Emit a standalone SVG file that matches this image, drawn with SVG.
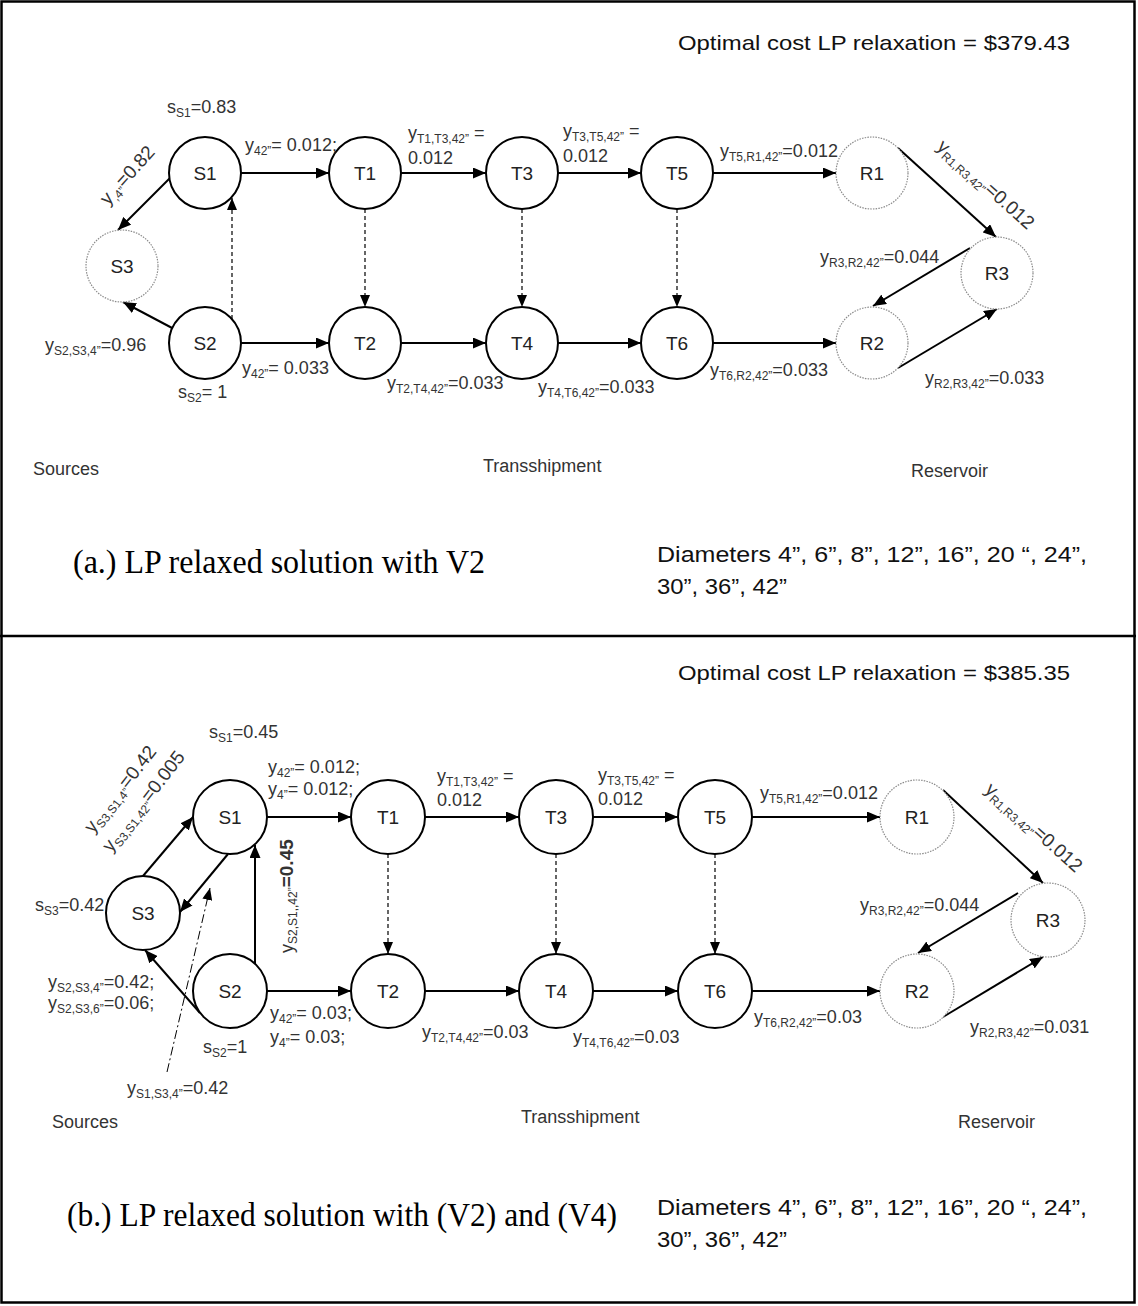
<svg xmlns="http://www.w3.org/2000/svg" width="1138" height="1306" viewBox="0 0 1138 1306">
<style>
.nd{fill:#fff;stroke:#000;stroke-width:2}
.nr{fill:#fff;stroke:#8a8a8a;stroke-width:1.2;stroke-dasharray:1.5 1.2}
.nl{font-family:"Liberation Sans",Arial,sans-serif;font-size:19px;fill:#222;text-anchor:middle}
.e{fill:none;stroke:#000;stroke-width:2;marker-end:url(#ah)}
.d{fill:none;stroke:#000;stroke-width:1.2;stroke-dasharray:4 3;marker-end:url(#ah2)}
.dd{fill:none;stroke:#000;stroke-width:1;stroke-dasharray:9 3 2 3;marker-end:url(#ah2)}
.t{font-family:"Liberation Sans",Arial,sans-serif;font-size:18px;fill:#333}
.r{font-size:19px}
.s{font-size:12px}
.big{font-size:19px;font-weight:bold}
.h{font-family:"Liberation Sans",Arial,sans-serif;font-size:21px;fill:#111}
.dm{font-family:"Liberation Sans",Arial,sans-serif;font-size:22px;fill:#111}
.cap{font-family:"Liberation Serif","Times New Roman",serif;font-size:34px;fill:#000}
</style>
<defs>
<marker id="ah" viewBox="0 0 13 11" markerWidth="13" markerHeight="11" refX="13" refY="5.5" orient="auto" markerUnits="userSpaceOnUse"><path d="M0,0 L13,5.5 L0,11 z" fill="#000"/></marker>
<marker id="ah2" viewBox="0 0 12 10" markerWidth="12" markerHeight="10" refX="12" refY="5" orient="auto" markerUnits="userSpaceOnUse"><path d="M0,0 L12,5 L0,10 z" fill="#000"/></marker>
</defs>
<rect x="1.5" y="1.5" width="1133" height="1301" fill="#fff" stroke="#000" stroke-width="2.5"/>
<line x1="0" y1="636" x2="1136" y2="636" stroke="#000" stroke-width="2.5"/>

<!-- Panel (a) connectors -->
<g id="edges-a">
<path class="e" d="M241,173 H329"/>
<path class="e" d="M401,173 H486"/>
<path class="e" d="M558,173 H641"/>
<path class="e" d="M713,173 H836"/>
<path class="e" d="M241,343 H329"/>
<path class="e" d="M401,343 H486"/>
<path class="e" d="M558,343 H641"/>
<path class="e" d="M713,343 H836"/>
<path class="d" d="M365,209 V307"/>
<path class="d" d="M522,209 V307"/>
<path class="d" d="M677,209 V307"/>
<path class="d" d="M232,319 V198"/>
<path class="e" d="M170,178 L118,230"/>
<path class="e" d="M174,329 L123,302"/>
<path class="e" d="M898,148 L996,237"/>
<path class="e" d="M970,248 L873,306"/>
<path class="e" d="M898,368 L997,309"/>
</g>

<!-- Panel (a) nodes -->
<g id="a-S1"><circle class="nd" cx="205" cy="173" r="36"/><text class="nl" x="205" y="180">S1</text></g>
<g id="a-S2"><circle class="nd" cx="205" cy="343" r="36"/><text class="nl" x="205" y="350">S2</text></g>
<g id="a-S3"><circle class="nr" cx="122" cy="266" r="36"/><text class="nl" x="122" y="273">S3</text></g>
<g id="a-T1"><circle class="nd" cx="365" cy="173" r="36"/><text class="nl" x="365" y="180">T1</text></g>
<g id="a-T2"><circle class="nd" cx="365" cy="343" r="36"/><text class="nl" x="365" y="350">T2</text></g>
<g id="a-T3"><circle class="nd" cx="522" cy="173" r="36"/><text class="nl" x="522" y="180">T3</text></g>
<g id="a-T4"><circle class="nd" cx="522" cy="343" r="36"/><text class="nl" x="522" y="350">T4</text></g>
<g id="a-T5"><circle class="nd" cx="677" cy="173" r="36"/><text class="nl" x="677" y="180">T5</text></g>
<g id="a-T6"><circle class="nd" cx="677" cy="343" r="36"/><text class="nl" x="677" y="350">T6</text></g>
<g id="a-R1"><circle class="nr" cx="872" cy="173" r="36"/><text class="nl" x="872" y="180">R1</text></g>
<g id="a-R2"><circle class="nr" cx="872" cy="343" r="36"/><text class="nl" x="872" y="350">R2</text></g>
<g id="a-R3"><circle class="nr" cx="997" cy="273" r="36"/><text class="nl" x="997" y="280">R3</text></g>

<!-- Panel (a) labels -->
<g id="labels-a">
<text class="h" x="678" y="50" textLength="392" lengthAdjust="spacingAndGlyphs">Optimal cost LP relaxation = $379.43</text>
<text class="t" x="167" y="113">s<tspan class="s" dy="4">S1</tspan><tspan dy="-4">=0.83</tspan></text>
<text class="t r" transform="translate(108,206) rotate(-48)">y<tspan class="s" dy="4">,4”</tspan><tspan dy="-4">=0.82</tspan></text>
<text class="t" x="245" y="151">y<tspan class="s" dy="4">42”</tspan><tspan dy="-4">= 0.012;</tspan></text>
<text class="t" x="45" y="351">y<tspan class="s" dy="4">S2,S3,4”</tspan><tspan dy="-4">=0.96</tspan></text>
<text class="t" x="242" y="374">y<tspan class="s" dy="4">42”</tspan><tspan dy="-4">= 0.033</tspan></text>
<text class="t" x="178" y="398">s<tspan class="s" dy="4">S2</tspan><tspan dy="-4">= 1</tspan></text>
<text class="t" x="408" y="139">y<tspan class="s" dy="4">T1,T3,42”</tspan><tspan dy="-4"> =</tspan></text>
<text class="t" x="408" y="164">0.012</text>
<text class="t" x="563" y="137">y<tspan class="s" dy="4">T3,T5,42”</tspan><tspan dy="-4"> =</tspan></text>
<text class="t" x="563" y="162">0.012</text>
<text class="t" x="720" y="157">y<tspan class="s" dy="4">T5,R1,42”</tspan><tspan dy="-4">=0.012</tspan></text>
<text class="t" x="387" y="389">y<tspan class="s" dy="4">T2,T4,42”</tspan><tspan dy="-4">=0.033</tspan></text>
<text class="t" x="538" y="393">y<tspan class="s" dy="4">T4,T6,42”</tspan><tspan dy="-4">=0.033</tspan></text>
<text class="t" x="710" y="376">y<tspan class="s" dy="4">T6,R2,42”</tspan><tspan dy="-4">=0.033</tspan></text>
<text class="t" x="820" y="263">y<tspan class="s" dy="4">R3,R2,42”</tspan><tspan dy="-4">=0.044</tspan></text>
<text class="t" x="925" y="384">y<tspan class="s" dy="4">R2,R3,42”</tspan><tspan dy="-4">=0.033</tspan></text>
<text class="t r" transform="translate(936,148) rotate(42)">y<tspan class="s" dy="4">R1,R3,42”</tspan><tspan dy="-4">=0.012</tspan></text>
<text class="t" x="33" y="475">Sources</text>
<text class="t" x="483" y="472">Transshipment</text>
<text class="t" x="911" y="477">Reservoir</text>
<text class="cap" x="73" y="573" textLength="412" lengthAdjust="spacingAndGlyphs">(a.) LP relaxed solution with V2</text>
<text class="dm" x="657" y="562" textLength="430" lengthAdjust="spacingAndGlyphs">Diameters 4”, 6”, 8”, 12”, 16”, 20 “, 24”,</text>
<text class="dm" x="657" y="594" textLength="130" lengthAdjust="spacingAndGlyphs">30”, 36”, 42”</text>
</g>

<!-- Panel (b) connectors -->
<g id="edges-b">
<path class="e" d="M267,817 H351"/>
<path class="e" d="M425,817 H519"/>
<path class="e" d="M593,817 H678"/>
<path class="e" d="M752,817 H880"/>
<path class="e" d="M267,991 H351"/>
<path class="e" d="M425,991 H519"/>
<path class="e" d="M593,991 H678"/>
<path class="e" d="M752,991 H880"/>
<path class="d" d="M388,854 V954"/>
<path class="d" d="M556,854 V954"/>
<path class="d" d="M715,854 V954"/>
<path class="e" d="M255,964 V845"/>
<path class="e" d="M143,876 L193,817"/>
<path class="e" d="M228,854 L180,912"/>
<path class="e" d="M200,1013 L145,950"/>
<path class="dd" d="M167,1072 L210,888"/>
<path class="e" d="M943,790 L1043,883"/>
<path class="e" d="M1018,893 L918,953"/>
<path class="e" d="M943,1017 L1043,957"/>
</g>

<!-- Panel (b) nodes -->
<g id="b-S1"><circle class="nd" cx="230" cy="817" r="37"/><text class="nl" x="230" y="824">S1</text></g>
<g id="b-S2"><circle class="nd" cx="230" cy="991" r="37"/><text class="nl" x="230" y="998">S2</text></g>
<g id="b-S3"><circle class="nd" cx="143" cy="913" r="37"/><text class="nl" x="143" y="920">S3</text></g>
<g id="b-T1"><circle class="nd" cx="388" cy="817" r="37"/><text class="nl" x="388" y="824">T1</text></g>
<g id="b-T2"><circle class="nd" cx="388" cy="991" r="37"/><text class="nl" x="388" y="998">T2</text></g>
<g id="b-T3"><circle class="nd" cx="556" cy="817" r="37"/><text class="nl" x="556" y="824">T3</text></g>
<g id="b-T4"><circle class="nd" cx="556" cy="991" r="37"/><text class="nl" x="556" y="998">T4</text></g>
<g id="b-T5"><circle class="nd" cx="715" cy="817" r="37"/><text class="nl" x="715" y="824">T5</text></g>
<g id="b-T6"><circle class="nd" cx="715" cy="991" r="37"/><text class="nl" x="715" y="998">T6</text></g>
<g id="b-R1"><circle class="nr" cx="917" cy="817" r="37"/><text class="nl" x="917" y="824">R1</text></g>
<g id="b-R2"><circle class="nr" cx="917" cy="991" r="37"/><text class="nl" x="917" y="998">R2</text></g>
<g id="b-R3"><circle class="nr" cx="1048" cy="920" r="37"/><text class="nl" x="1048" y="927">R3</text></g>

<!-- Panel (b) labels -->
<g id="labels-b">
<text class="h" x="678" y="680" textLength="392" lengthAdjust="spacingAndGlyphs">Optimal cost LP relaxation = $385.35</text>
<text class="t" x="209" y="738">s<tspan class="s" dy="4">S1</tspan><tspan dy="-4">=0.45</tspan></text>
<text class="t r" transform="translate(93,834) rotate(-52)">y<tspan class="s" dy="4">S3,S1,4”</tspan><tspan dy="-4">=0.42</tspan></text>
<text class="t r" transform="translate(111,853) rotate(-52)">y<tspan class="s" dy="4">S3,S1,42”</tspan><tspan dy="-4">=0.005</tspan></text>
<text class="t" x="35" y="911">s<tspan class="s" dy="4">S3</tspan><tspan dy="-4">=0.42</tspan></text>
<text class="t" x="48" y="988">y<tspan class="s" dy="4">S2,S3,4”</tspan><tspan dy="-4">=0.42;</tspan></text>
<text class="t" x="48" y="1009">y<tspan class="s" dy="4">S2,S3,6”</tspan><tspan dy="-4">=0.06;</tspan></text>
<text class="t" x="203" y="1053">s<tspan class="s" dy="4">S2</tspan><tspan dy="-4">=1</tspan></text>
<text class="t" x="268" y="773">y<tspan class="s" dy="4">42”</tspan><tspan dy="-4">= 0.012;</tspan></text>
<text class="t" x="268" y="795">y<tspan class="s" dy="4">4”</tspan><tspan dy="-4">= 0.012;</tspan></text>
<text class="t" transform="translate(293,953) rotate(-90)">y<tspan class="s" dy="4">S2,S1,,42”</tspan><tspan class="big" dy="-4">=0.45</tspan></text>
<text class="t" x="270" y="1019">y<tspan class="s" dy="4">42”</tspan><tspan dy="-4">= 0.03;</tspan></text>
<text class="t" x="270" y="1043">y<tspan class="s" dy="4">4”</tspan><tspan dy="-4">= 0.03;</tspan></text>
<text class="t" x="437" y="782">y<tspan class="s" dy="4">T1,T3,42”</tspan><tspan dy="-4"> =</tspan></text>
<text class="t" x="437" y="806">0.012</text>
<text class="t" x="598" y="781">y<tspan class="s" dy="4">T3,T5,42”</tspan><tspan dy="-4"> =</tspan></text>
<text class="t" x="598" y="805">0.012</text>
<text class="t" x="760" y="799">y<tspan class="s" dy="4">T5,R1,42”</tspan><tspan dy="-4">=0.012</tspan></text>
<text class="t" x="422" y="1038">y<tspan class="s" dy="4">T2,T4,42”</tspan><tspan dy="-4">=0.03</tspan></text>
<text class="t" x="573" y="1043">y<tspan class="s" dy="4">T4,T6,42”</tspan><tspan dy="-4">=0.03</tspan></text>
<text class="t" x="754" y="1023">y<tspan class="s" dy="4">T6,R2,42”</tspan><tspan dy="-4">=0.03</tspan></text>
<text class="t" x="860" y="911">y<tspan class="s" dy="4">R3,R2,42”</tspan><tspan dy="-4">=0.044</tspan></text>
<text class="t" x="970" y="1033">y<tspan class="s" dy="4">R2,R3,42”</tspan><tspan dy="-4">=0.031</tspan></text>
<text class="t r" transform="translate(984,791) rotate(42)">y<tspan class="s" dy="4">R1,R3,42”</tspan><tspan dy="-4">=0.012</tspan></text>
<text class="t" x="127" y="1094">y<tspan class="s" dy="4">S1,S3,4”</tspan><tspan dy="-4">=0.42</tspan></text>
<text class="t" x="52" y="1128">Sources</text>
<text class="t" x="521" y="1123">Transshipment</text>
<text class="t" x="958" y="1128">Reservoir</text>
<text class="cap" x="67" y="1226" textLength="550" lengthAdjust="spacingAndGlyphs">(b.) LP relaxed solution with (V2) and (V4)</text>
<text class="dm" x="657" y="1215" textLength="430" lengthAdjust="spacingAndGlyphs">Diameters 4”, 6”, 8”, 12”, 16”, 20 “, 24”,</text>
<text class="dm" x="657" y="1247" textLength="130" lengthAdjust="spacingAndGlyphs">30”, 36”, 42”</text>
</g>
</svg>
